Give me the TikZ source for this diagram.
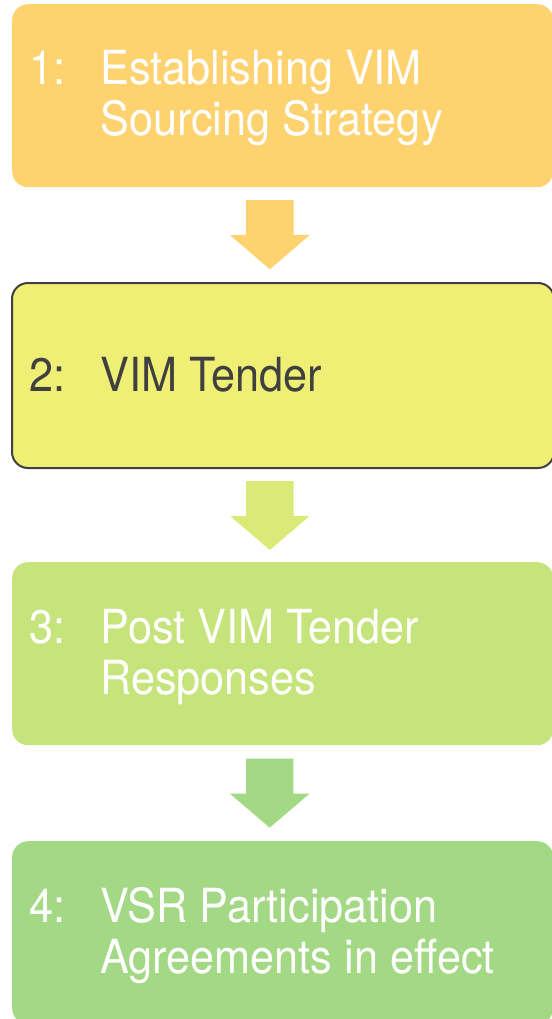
\documentclass[tikz,border=0pt]{standalone}
\usepackage{fontspec}
\setmainfont{TeX Gyre Heros}[FakeStretch=0.92]
\usetikzlibrary{positioning,calc}

\definecolor{stageorange}{HTML}{FDD26F}
\definecolor{stageyellow}{HTML}{F0EF75}
\definecolor{stagelime}{HTML}{C6E47C}
\definecolor{stagegreen}{HTML}{A3D884}
\definecolor{arrowlime}{HTML}{D9EA78}
\definecolor{textgray}{HTML}{404040}

\tikzset{
    stage/.style={rounded corners=16pt, minimum width=541pt, inner sep=0pt, anchor=north west},
    stagetxt/.style={anchor=base west, inner sep=0pt, font=\fontsize{47}{51}\selectfont, text=white},
}

\begin{document}
\begin{tikzpicture}[x=1pt,y=-1pt]
    \def\stagearrow#1#2#3{
        \begin{scope}[shift={($(#1.south)!0.5!(#2.north)$)}]
            \fill[#3] (-36.7,-34.5) -- (10.7,-34.5) -- (10.7,0.5) -- (26.7,0.5)
                -- (-13,34.5) -- (-52.7,0.5) -- (-36.7,0.5) -- cycle;
        \end{scope}
    }
    \useasboundingbox (0,0) rectangle (551,1019);

    % stage boxes
    \node[stage, fill=stageorange, minimum height=183pt] (box1) at (12,4) {};
    \node[stage, fill=stageyellow, draw=textgray, line width=2pt, minimum width=542pt, minimum height=185pt] (box2) at (11,282) {};
    \node[stage, fill=stagelime, minimum height=183pt] (box3) at (12,562) {};
    \node[stage, fill=stagegreen, minimum height=183pt] (box4) at (12,841) {};

    % arrows between stages
    \stagearrow{box1}{box2}{stageorange}
    \stagearrow{box2}{box3}{arrowlime}
    \stagearrow{box3}{box4}{stagegreen}

    % labels
    \node[stagetxt] (num1) at (29,85) {1:};
    \node[stagetxt] (lbl1a) at (100,85) {Establishing VIM};
    \node[stagetxt] (lbl1b) at ($(lbl1a.base west)+(0,51)$) {Sourcing Strategy};

    \node[stagetxt, text=textgray] (num2) at (29,391) {2:};
    \node[stagetxt, text=textgray] (lbl2a) at (100,391) {VIM Tender};

    \node[stagetxt] (num3) at (29,643) {3:};
    \node[stagetxt] (lbl3a) at (100,643) {Post VIM Tender};
    \node[stagetxt] (lbl3b) at ($(lbl3a.base west)+(0,51)$) {Responses};

    \node[stagetxt] (num4) at (29,922) {4:};
    \node[stagetxt] (lbl4a) at (100,922) {VSR Participation};
    \node[stagetxt] (lbl4b) at ($(lbl4a.base west)+(0,51)$) {Agreements in effect};
\end{tikzpicture}
\end{document}
